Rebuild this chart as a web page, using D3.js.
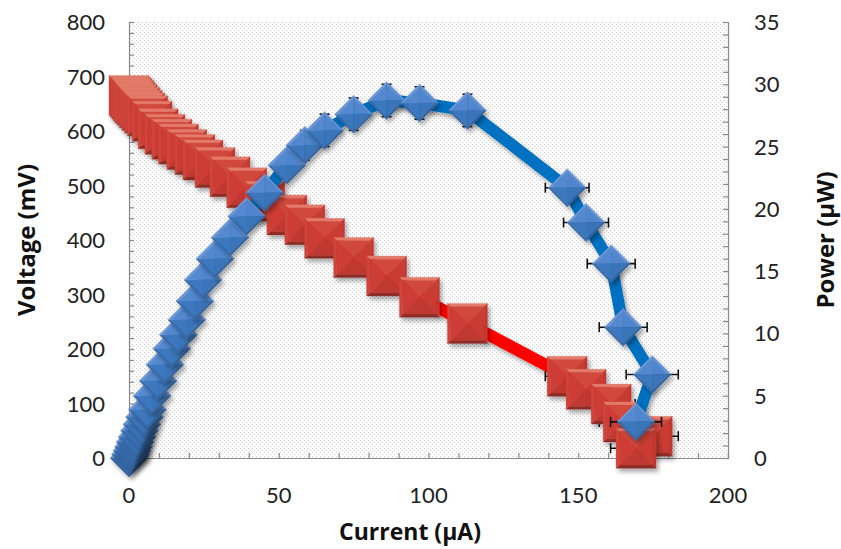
<!DOCTYPE html>
<html><head><meta charset="utf-8">
<script src="https://cdn.jsdelivr.net/npm/d3@7"></script>
<style>body{margin:0;background:#fff}svg{display:block}</style>
</head><body>
<script>
const currentUA = [0,0.5,1,1.5,2,2.7,3.5,4.3,5.2,6.2,7.7,9.7,12,14.3,16.5,19.3,22,24.7,28.7,33.7,39.3,45.3,52.7,58.7,65.3,75,86,97,113,146.3,152.6,161,165,174.7,169.3];
const voltageMV = [665,662,659,656,652,648,643,638,633,628,618,604,594,585,576,566,557,547,533,516,496,471,446,428,403,368,334,295,247,150,126,99,66,40,18];
const powerUW = [0,0.3,0.6,0.9,1.3,1.7,2.2,2.7,3.3,3.9,5.0,6.2,7.5,8.8,9.9,11.1,12.6,14.3,16.0,17.7,19.4,21.3,23.5,25.1,26.3,27.6,28.7,28.5,27.9,21.7,18.9,15.6,10.5,6.7,2.9];
const currentErr = [0,0,0,0,0,0,0,0,0,0,0,0,0,0,0,0,0,0,0,0,0,0,0,0,0,0,0,0,0,7.3,7.5,8,8,8.7,8.5];
const powerErr = [0,0,0,0,0,0,0,0,0,0,0,0,0,0,0,0,0,0,0,0,0,0,0,1.2,1.3,1.3,1.3,1.3,1.3,0,0,0,0,0,0];
const xTicks = [0,50,100,150,200];
const vTicks = [0,100,200,300,400,500,600,700,800];
const pTicks = [0,5,10,15,20,25,30,35];

const W=841,H=549;
const svg=d3.select("body").append("svg").attr("width",W).attr("height",H);
const defs=svg.append("defs");
const pat=defs.append("pattern").attr("id","dots").attr("width",4).attr("height",4).attr("patternUnits","userSpaceOnUse");
pat.append("rect").attr("width",4).attr("height",4).attr("fill","#fdfdfd");
pat.append("rect").attr("x",0).attr("y",0).attr("width",1).attr("height",1).attr("fill","#cdcdcd");
pat.append("rect").attr("x",2).attr("y",2).attr("width",1).attr("height",1).attr("fill","#cdcdcd");
const f=defs.append("filter").attr("id","sh").attr("x","-50%").attr("y","-50%").attr("width","200%").attr("height","200%");
f.append("feDropShadow").attr("dx",2.5).attr("dy",3.5).attr("stdDeviation",2).attr("flood-color","#000").attr("flood-opacity",0.33);

const x=d3.scaleLinear().domain([0,200]).range([129,728]);
const yL=d3.scaleLinear().domain([0,800]).range([458,22]);
const yR=d3.scaleLinear().domain([0,35]).range([458,22]);

svg.append("rect").attr("x",129).attr("y",22).attr("width",599).attr("height",436).attr("fill","url(#dots)");

const font="Lato, 'Open Sans', sans-serif";
const tfont="'Open Sans', Lato, sans-serif";
const axColor="#8a8a8a";
const gx=svg.append("g").attr("transform","translate(0,458)")
 .call(d3.axisBottom(x).tickValues(d3.range(0,201,10)).tickSize(-5).tickFormat(""));
const gl=svg.append("g").attr("transform","translate(129,0)")
 .call(d3.axisLeft(yL).tickValues(d3.range(0,801,20)).tickSize(-5).tickFormat(""));
const gr=svg.append("g").attr("transform","translate(728,0)")
 .call(d3.axisRight(yR).tickValues(d3.range(0,36,1)).tickSize(-5).tickFormat(""));
[gx,gl,gr].forEach(g=>{g.selectAll("path,line").attr("stroke",axColor).attr("stroke-width",1.2);});
svg.append("g").selectAll("text").data(xTicks).join("text")
 .attr("x",d=>x(d)).attr("y",503).attr("text-anchor","middle").attr("font-family",font).attr("font-size",22).attr("fill","#222").text(d=>d);
svg.append("g").selectAll("text").data(vTicks).join("text")
 .attr("x",105).attr("y",d=>yL(d)+8).attr("text-anchor","end").attr("font-family",font).attr("font-size",22).attr("fill","#222").text(d=>d);
svg.append("g").selectAll("text").data(pTicks).join("text")
 .attr("x",754).attr("y",d=>yR(d)+8).attr("text-anchor","start").attr("font-family",font).attr("font-size",22).attr("fill","#222").text(d=>d);
svg.append("text").attr("x",410).attr("y",540).attr("text-anchor","middle").attr("font-family",tfont).attr("font-weight","bold").attr("font-size",23).attr("fill","#111").text("Current (µA)");
svg.append("text").attr("transform","translate(35,240) rotate(-90)").attr("text-anchor","middle").attr("font-family",tfont).attr("font-weight","bold").attr("font-size",24).attr("fill","#111").text("Voltage (mV)");
svg.append("text").attr("transform","translate(834,240) rotate(-90)").attr("text-anchor","middle").attr("font-family",tfont).attr("font-weight","bold").attr("font-size",24).attr("fill","#111").text("Power (µW)");

const red=currentUA.map((c,i)=>({c,v:voltageMV[i],e:currentErr[i]}));
const blue=currentUA.map((c,i)=>({c,v:powerUW[i],e:currentErr[i],pe:powerErr[i]}));

function shade(base,b){return b>=0?d3.interpolateLab(base,"#ffffff")(b):d3.interpolateLab(base,"#000000")(-b);}
const L=[-0.15,-1];const Ln=Math.hypot(L[0],L[1]);
function marker(g,verts,base,bev,fac){
  const k=0.84;
  const inner=verts.map(p=>[p[0]*k,p[1]*k]);
  for(let i=0;i<verts.length;i++){
    const a=verts[i],b=verts[(i+1)%verts.length],ai=inner[i],bi=inner[(i+1)%verts.length];
    let nx=(b[1]-a[1]),ny=-(b[0]-a[0]);const nl=Math.hypot(nx,ny);nx/=nl;ny/=nl;
    const mx=(a[0]+b[0])/2,my=(a[1]+b[1])/2; if(nx*mx+ny*my<0){nx=-nx;ny=-ny;}
    const dot=(nx*L[0]+ny*L[1])/Ln;
    g.append("path").attr("d",`M${a}L${b}L${bi}L${ai}Z`).attr("fill",shade(base,dot*bev)).attr("stroke",shade(base,dot*bev)).attr("stroke-width",0.3);
    g.append("path").attr("d",`M${ai}L${bi}L0,0Z`).attr("fill",shade(base,dot*fac)).attr("stroke",shade(base,dot*fac)).attr("stroke-width",0.4);
  }
}
function errBars(g,data,ys,withV){
  const eb=g.append("g").attr("stroke","#111").attr("stroke-width",1.6);
  data.forEach(d=>{
    if(d.e>0){
      const y0=ys(d.v),x1=x(d.c-d.e),x2=x(d.c+d.e);
      eb.append("line").attr("x1",x1).attr("x2",x2).attr("y1",y0).attr("y2",y0);
      eb.append("line").attr("x1",x1).attr("x2",x1).attr("y1",y0-5).attr("y2",y0+5);
      eb.append("line").attr("x1",x2).attr("x2",x2).attr("y1",y0-5).attr("y2",y0+5);
    }
    if(withV&&d.pe>0){
      const x0=x(d.c),y1=ys(d.v-d.pe),y2=ys(d.v+d.pe);
      eb.append("line").attr("x1",x0).attr("x2",x0).attr("y1",y1).attr("y2",y2);
      eb.append("line").attr("x1",x0-5).attr("x2",x0+5).attr("y1",y1).attr("y2",y1);
      eb.append("line").attr("x1",x0-5).attr("x2",x0+5).attr("y1",y2).attr("y2",y2);
    }
  });
}
const line=(ys)=>d3.line().x(d=>x(d.c)).y(d=>ys(d.v));
svg.append("path").datum(red).attr("d",line(yL)).attr("fill","none").attr("stroke","#ff0000").attr("stroke-width",12).attr("stroke-linejoin","round").attr("filter","url(#sh)");
errBars(svg,red,yL,false);
const sq=20;
red.forEach(d=>{
  const g=svg.append("g").attr("transform",`translate(${x(d.c)},${yL(d.v)})`).attr("filter","url(#sh)");
  marker(g,[[-sq,-sq],[sq,-sq],[sq,sq],[-sq,sq]],"#cc3a33",0.3,0.06);
});
svg.append("path").datum(blue).attr("d",line(yR)).attr("fill","none").attr("stroke","#0070c0").attr("stroke-width",12).attr("stroke-linejoin","round").attr("filter","url(#sh)");
errBars(svg,blue,yR,true);
const r=19;
blue.forEach(d=>{
  const g=svg.append("g").attr("transform",`translate(${x(d.c)},${yR(d.v)})`).attr("filter","url(#sh)");
  marker(g,[[0,-r],[r,0],[0,r],[-r,0]],"#3f7fcb",0.25,0.1);
});
</script>
</body></html>
